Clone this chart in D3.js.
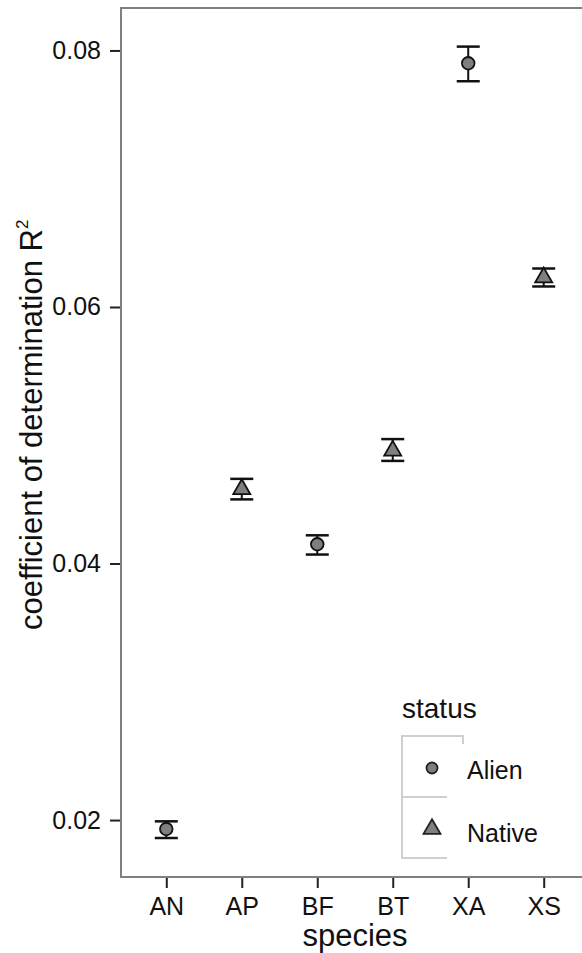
<!DOCTYPE html>
<html><head><meta charset="utf-8">
<script src="https://cdn.jsdelivr.net/npm/d3@7"></script>
<style>
html,body{margin:0;padding:0;background:#fff;}
svg{display:block;font-family:"Liberation Sans",Arial,Helvetica,sans-serif;}
</style></head>
<body>
<svg id="chart" width="582" height="953"></svg>
<script>
const species = ["AN","AP","BF","BT","XA","XS"];
const status  = ["Alien","Native","Alien","Native","Alien","Native"];
const means   = [0.0193,0.0458,0.0415,0.0488,0.0790,0.0623];
const lower   = [0.0186,0.0450,0.0407,0.0480,0.0776,0.0616];
const upper   = [0.0199,0.0466,0.0422,0.0497,0.0803,0.0630];
const yTicks  = [0.02,0.04,0.06,0.08];
const statusLevels = ["Alien","Native"];

const svg = d3.select("#chart");
const P = {left:121, right:589, top:8, bottom:877};

const x = d3.scalePoint().domain(species).range([P.left, P.right]).padding(0.6);
const y = d3.scaleLinear().domain([0.01556, 0.08331]).range([P.bottom, P.top]);

const data = species.map((s,i)=>({s, st:status[i], m:means[i], lo:lower[i], hi:upper[i]}));

// panel border (left, top, bottom)
const border = "#808080";
svg.append("path")
  .attr("d", `M${P.right+5},${P.top}H${P.left}V${P.bottom}H${P.right+5}`)
  .attr("fill","none").attr("stroke",border).attr("stroke-width",2);

// y axis
const yAxis = svg.append("g").attr("transform",`translate(${P.left-1},0)`)
  .call(d3.axisLeft(y).tickValues(yTicks).tickFormat(d3.format(".2f")).tickSize(10).tickPadding(9));
yAxis.select(".domain").remove();
yAxis.selectAll(".tick line").attr("stroke","#222").attr("stroke-width",2);
yAxis.selectAll(".tick text").attr("font-size",25).attr("fill","#111")
  .attr("font-family","'Liberation Sans',Arial,sans-serif");

// x axis
const xAxis = svg.append("g").attr("transform",`translate(0,${P.bottom+1})`)
  .call(d3.axisBottom(x).tickSize(10).tickPadding(9));
xAxis.select(".domain").remove();
xAxis.selectAll(".tick line").attr("stroke","#222").attr("stroke-width",2);
xAxis.selectAll(".tick text").attr("font-size",25).attr("fill","#111")
  .attr("font-family","'Liberation Sans',Arial,sans-serif");

// axis titles
svg.append("text").attr("x", (P.left+P.right)/2 - 0).attr("y", 946)
  .attr("text-anchor","middle").attr("font-size",31).attr("fill","#111").text("species");

const yt = svg.append("text").attr("transform","translate(42,630) rotate(-90)")
  .attr("text-anchor","start").attr("font-size",31).attr("fill","#111");
yt.append("tspan").text("coefficient of determination R");
yt.append("tspan").attr("font-size",17).attr("dy",-14).text("2");

// error bars
const eb = svg.append("g");
const capW = 23;
data.forEach(d=>{
  const cx = x(d.s);
  eb.append("line").attr("x1",cx).attr("x2",cx).attr("y1",y(d.hi)).attr("y2",y(d.lo))
    .attr("stroke","#111").attr("stroke-width",2);
  [d.hi,d.lo].forEach(v=>{
    eb.append("line").attr("x1",cx-capW/2).attr("x2",cx+capW/2).attr("y1",y(v)).attr("y2",y(v))
      .attr("stroke","#111").attr("stroke-width",2.5);
  });
});

// points
const triPath = (cx,cy,s)=>{
  const h = s*Math.sqrt(3)/2;
  return `M${cx},${cy-2*h/3}L${cx+s/2},${cy+h/3}L${cx-s/2},${cy+h/3}Z`;
};
const pts = svg.append("g");
data.forEach(d=>{
  const cx = x(d.s), cy = y(d.m);
  if(d.st==="Alien"){
    pts.append("circle").attr("cx",cx).attr("cy",cy).attr("r",6.3)
      .attr("fill","#7f7f7f").attr("stroke","#111").attr("stroke-width",1.8);
  } else {
    pts.append("path").attr("d",triPath(cx,cy,17))
      .attr("fill","#7f7f7f").attr("stroke","#111").attr("stroke-width",1.8).attr("stroke-linejoin","miter");
  }
});

// legend
const lg = svg.append("g");
lg.append("text").attr("x",402).attr("y",718).attr("font-size",28).attr("fill","#111").text("status");
const lc = "#cfcfcf";
lg.append("path").attr("d","M463,744V736H402V858H447").attr("fill","none").attr("stroke",lc).attr("stroke-width",2);
lg.append("path").attr("d","M402,797H447").attr("fill","none").attr("stroke",lc).attr("stroke-width",2);
const legY = d3.scalePoint().domain(statusLevels).range([768, 828]);
statusLevels.forEach(s=>{
  const cy = legY(s);
  if(s==="Alien"){
    lg.append("circle").attr("cx",432).attr("cy",cy).attr("r",5.5)
      .attr("fill","#7f7f7f").attr("stroke","#222").attr("stroke-width",1.8);
  } else {
    lg.append("path").attr("d",triPath(432,cy+1,17))
      .attr("fill","#7f7f7f").attr("stroke","#222").attr("stroke-width",1.8);
  }
  lg.append("text").attr("x",467).attr("y",cy+11 + (s==="Native"?3:0)).attr("font-size",25).attr("fill","#111").text(s);
});
</script>
</body></html>
